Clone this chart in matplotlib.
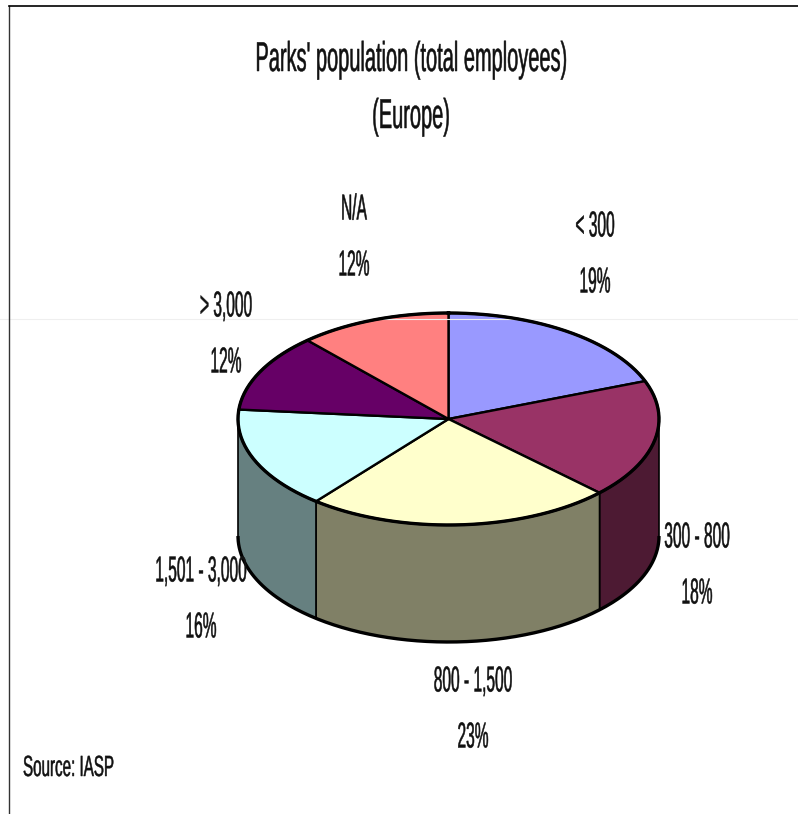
import numpy as np
import matplotlib
matplotlib.use("Agg")
import matplotlib.pyplot as plt
from matplotlib.patheffects import AbstractPathEffect
from matplotlib.transforms import Affine2D

plt.rcParams["font.family"] = ["Liberation Sans", "DejaVu Sans"]

# clockwise from the top
categories = ["< 300", "300 - 800", "800 - 1,500", "1,501 - 3,000", "> 3,000", "N/A"]
percent_labels = [19, 18, 23, 16, 12, 12]
slice_sizes = [19.2, 18.1, 23.6, 15.6, 11.9, 11.7]
top_colors = ["#9999FF", "#993366", "#FFFFCC", "#CCFFFF", "#660066", "#FF8080"]
side_colors = ["#4D4D80", "#4D1A33", "#808066", "#668080", "#330033", "#804040"]

CX, CY = 448.5, 419  # pie centre in pixels
RX, RY = 210.5, 106
DEPTH = 117


class Squeeze(AbstractPathEffect):
    # the reference text is stretched tall, so narrow the glyphs around x0
    def __init__(self, sx, x0):
        super().__init__()
        self.sx = sx
        self.x0 = x0

    def draw_path(self, renderer, gc, tpath, affine, rgbFace=None):
        squeeze = Affine2D().translate(-self.x0, 0).scale(self.sx, 1).translate(self.x0, 0)
        gc0 = renderer.new_gc()
        gc0.copy_properties(gc)
        gc0.set_foreground(rgbFace)
        gc0.set_linewidth(0.35)
        renderer.draw_path(gc0, tpath, affine + squeeze, rgbFace)
        gc0.restore()


def ell(a):
    # a is clockwise from the top, in radians
    return CX + RX * np.sin(a), CY - RY * np.cos(a)


fig = plt.figure(figsize=(7.98, 8.14), dpi=100)
ax = fig.add_axes([0, 0, 1, 1])
ax.set_xlim(0, 798)
ax.set_ylim(814, 0)
ax.axis("off")

# page edges
ax.plot([0, 798], [319, 319], color="#EFEFEF", lw=0.8)
ax.plot([9, 9], [6, 814], color="#333333", lw=1)
ax.plot([9, 798], [6, 6], color="black", lw=1.2)

edges = 2 * np.pi * np.cumsum([0] + slice_sizes) / sum(slice_sizes)

# side walls first, only the front half of the ellipse shows
for i in range(len(slice_sizes)):
    a0 = max(edges[i], np.pi / 2)
    a1 = min(edges[i + 1], 3 * np.pi / 2)
    if a1 <= a0:
        continue
    t = np.linspace(a0, a1, 80)
    x, y = ell(t)
    xs = np.concatenate([x, x[::-1]])
    ys = np.concatenate([y, y[::-1] + DEPTH])
    ax.fill(xs, ys, facecolor=side_colors[i], edgecolor="black", lw=1.2, joinstyle="round")

# top faces
for i in range(len(slice_sizes)):
    t = np.linspace(edges[i], edges[i + 1], 80)
    x, y = ell(t)
    ax.fill(np.r_[CX, x], np.r_[CY, y], facecolor=top_colors[i], edgecolor="black", lw=1.7,
            joinstyle="round")

# thick rim around the outline
t = np.linspace(0, 2 * np.pi, 300)
x, y = ell(t)
ax.plot(x, y, color="black", lw=2.4)
t = np.linspace(np.pi / 2, 3 * np.pi / 2, 200)
x, y = ell(t)
ax.plot(x, y + DEPTH, color="black", lw=2.4, solid_capstyle="butt")


def tall_text(px, py, s, size, sx, ha="center"):
    ax.text(px, py, s, ha=ha, va="center", fontsize=size, color="#111111",
            path_effects=[Squeeze(sx, px)])


tall_text(411, 60, "Parks' population (total employees)", 30, 0.48)
tall_text(411, 117, "(Europe)", 30, 0.48)

label_pos = [(595, 227), (697, 538), (473, 682), (201, 572), (226, 307), (354, 210)]
for name, share, (lx, ly) in zip(categories, percent_labels, label_pos):
    tall_text(lx, ly, name, 26, 0.43)
    tall_text(lx, ly + 56, f"{share}%", 26, 0.43)

tall_text(23, 768, "Source: IASP", 21, 0.52, ha="left")

fig.savefig("out.png", dpi=100)
